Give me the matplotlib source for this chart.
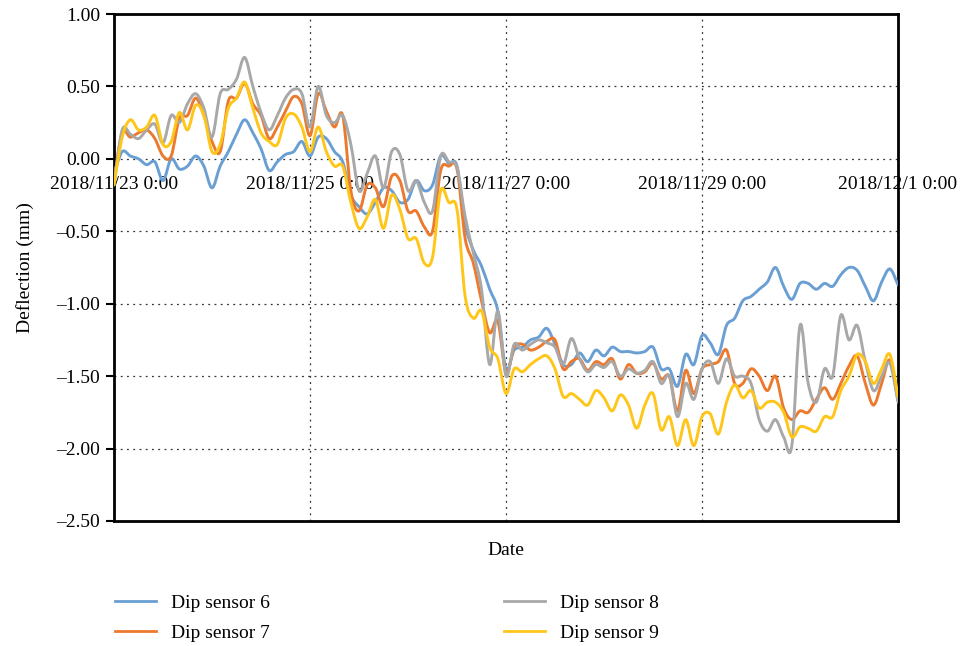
import numpy as np
import pandas as pd
import matplotlib
matplotlib.use("Agg")
import matplotlib.pyplot as plt
import matplotlib.dates as mdates
from matplotlib.path import Path
from matplotlib.patches import PathPatch
from matplotlib.lines import Line2D

plt.rcParams['font.family'] = ['Liberation Serif', 'DejaVu Serif']

# Two-hourly readings from 2018/11/23 0:00 to 2018/12/1 0:00
start = "2018-11-23 00:00"
n_points = 97
step = "2h"

sensor6 = [
    -0.10, 0.05, 0.02, 0.00, -0.04, -0.02, -0.15, 0.00, -0.07, -0.05,
    0.02, -0.05, -0.20, -0.05, 0.05, 0.17, 0.27, 0.18, 0.07, -0.08,
    -0.02, 0.03, 0.05, 0.12, 0.02, 0.15, 0.14, 0.05, -0.02, -0.25,
    -0.33, -0.38, -0.30, -0.20, -0.22, -0.30, -0.28, -0.15, -0.22, -0.18,
    0.02, -0.03, -0.05, -0.45, -0.63, -0.74, -0.90, -1.05, -1.45, -1.32,
    -1.30, -1.25, -1.23, -1.17, -1.28, -1.42, -1.42, -1.34, -1.40, -1.32,
    -1.36, -1.30, -1.33, -1.33, -1.34, -1.33, -1.30, -1.45, -1.45, -1.57,
    -1.35, -1.42, -1.22, -1.27, -1.35, -1.15, -1.10, -0.98, -0.95, -0.90,
    -0.85, -0.75, -0.88, -0.97, -0.86, -0.86, -0.90, -0.86, -0.88, -0.80,
    -0.75, -0.77, -0.88, -0.98, -0.85, -0.76, -0.87,
]

sensor7 = [
    -0.15, 0.18, 0.15, 0.18, 0.20, 0.14, 0.02, 0.02, 0.28, 0.30,
    0.42, 0.30, 0.12, 0.05, 0.40, 0.42, 0.52, 0.38, 0.30, 0.14,
    0.22, 0.33, 0.43, 0.38, 0.16, 0.45, 0.33, 0.22, 0.30, -0.22,
    -0.36, -0.18, -0.20, -0.33, -0.12, -0.15, -0.36, -0.36, -0.47, -0.50,
    -0.08, -0.05, -0.07, -0.55, -0.72, -0.98, -1.20, -1.12, -1.48, -1.30,
    -1.28, -1.32, -1.30, -1.26, -1.25, -1.45, -1.40, -1.38, -1.46, -1.40,
    -1.42, -1.38, -1.52, -1.42, -1.48, -1.47, -1.41, -1.52, -1.50, -1.74,
    -1.46, -1.62, -1.45, -1.42, -1.40, -1.32, -1.55, -1.55, -1.45, -1.50,
    -1.60, -1.50, -1.72, -1.80, -1.74, -1.75, -1.66, -1.58, -1.66, -1.55,
    -1.43, -1.36, -1.55, -1.70, -1.55, -1.39, -1.67,
]

sensor8 = [
    -0.18, 0.20, 0.17, 0.14, 0.20, 0.24, 0.11, 0.30, 0.25, 0.38,
    0.45, 0.35, 0.15, 0.45, 0.48, 0.55, 0.70, 0.50, 0.32, 0.20,
    0.30, 0.42, 0.48, 0.45, 0.22, 0.50, 0.30, 0.25, 0.30, 0.10,
    -0.22, -0.10, 0.02, -0.20, 0.05, 0.03, -0.22, -0.15, -0.30, -0.36,
    0.02, -0.02, -0.06, -0.40, -0.65, -0.90, -1.42, -1.05, -1.50, -1.28,
    -1.32, -1.28, -1.25, -1.27, -1.30, -1.42, -1.24, -1.38, -1.47, -1.42,
    -1.44, -1.40, -1.50, -1.45, -1.48, -1.46, -1.40, -1.55, -1.50, -1.78,
    -1.55, -1.66, -1.45, -1.40, -1.55, -1.38, -1.50, -1.50, -1.55, -1.80,
    -1.88, -1.80, -1.92, -1.98, -1.15, -1.55, -1.68, -1.45, -1.50, -1.08,
    -1.25, -1.15, -1.40, -1.60, -1.50, -1.41, -1.68,
]

sensor9 = [
    -0.18, 0.15, 0.27, 0.20, 0.22, 0.30, 0.10, 0.12, 0.32, 0.20,
    0.37, 0.30, 0.05, 0.10, 0.35, 0.42, 0.53, 0.35, 0.18, 0.12,
    0.10, 0.28, 0.31, 0.22, 0.05, 0.22, 0.05, -0.05, -0.05, -0.30,
    -0.48, -0.40, -0.28, -0.48, -0.25, -0.35, -0.55, -0.55, -0.72, -0.68,
    -0.22, -0.30, -0.35, -0.95, -1.10, -1.05, -1.30, -1.38, -1.62, -1.45,
    -1.47, -1.42, -1.38, -1.36, -1.45, -1.64, -1.62, -1.66, -1.70, -1.60,
    -1.65, -1.74, -1.63, -1.70, -1.86, -1.70, -1.62, -1.87, -1.78, -1.98,
    -1.80, -1.98, -1.78, -1.76, -1.90, -1.68, -1.56, -1.65, -1.60, -1.72,
    -1.68, -1.68, -1.75, -1.92, -1.85, -1.86, -1.88, -1.78, -1.78, -1.60,
    -1.50, -1.35, -1.40, -1.55, -1.45, -1.35, -1.64,
]

labels = ["Dip sensor 6", "Dip sensor 7", "Dip sensor 8", "Dip sensor 9"]
colors = ["#6A9FD4", "#EC7A2E", "#A8A8A8", "#FFC61A"]

y_ticks = [1.00, 0.50, 0.00, -0.50, -1.00, -1.50, -2.00, -2.50]
x_tick_dates = ["2018-11-23", "2018-11-25", "2018-11-27", "2018-11-29", "2018-12-01"]

times = pd.date_range(start, periods=n_points, freq=step)
series = [sensor6, sensor7, sensor8, sensor9]


def smooth_path(x, y):
    """Smoothed-line path through every reading (cubic Bezier segments)."""
    p = np.column_stack([x, y])
    n = len(p)
    verts = [p[0]]
    codes = [Path.MOVETO]
    for i in range(n - 1):
        p0 = p[i - 1] if i > 0 else p[i]
        p1, p2 = p[i], p[i + 1]
        p3 = p[i + 2] if i + 2 < n else p[i + 1]
        c1 = p1 + (p2 - p0) / 6.0
        c2 = p2 - (p3 - p1) / 6.0
        verts += [c1, c2, p2]
        codes += [Path.CURVE4] * 3
    return Path(verts, codes)


fig = plt.figure(figsize=(9.63, 6.46), dpi=100)
ax = fig.add_axes([0.1184, 0.1935, 0.8141, 0.7848])

xnum = mdates.date2num(times.to_pydatetime())
handles = []
for vals, lab, col in zip(series, labels, colors):
    patch = PathPatch(smooth_path(xnum, np.asarray(vals)), facecolor='none',
                      edgecolor=col, lw=2.1, capstyle='round', joinstyle='round',
                      zorder=3)
    ax.add_patch(patch)
    handles.append(Line2D([], [], color=col, lw=2.0, label=lab))

ax.xaxis_date()
tick_dt = pd.to_datetime(x_tick_dates)
ax.set_xlim(mdates.date2num(tick_dt[0].to_pydatetime()),
            mdates.date2num(tick_dt[-1].to_pydatetime()))
ymin, ymax = -2.5, 1.0
ax.set_ylim(ymin, ymax)

# grid
grid_kw = dict(color="#333333", lw=0.9, linestyle=(0, (1.5, 3.5)), zorder=0)
for v in y_ticks[1:-1]:
    ax.axhline(v, **grid_kw)
for d in tick_dt[1:-1]:
    ax.axvline(mdates.date2num(d.to_pydatetime()), **grid_kw)

for s in ax.spines.values():
    s.set_linewidth(2.0)
    s.set_color("black")

ax.set_yticks(y_ticks)
ax.yaxis.set_major_formatter(plt.FuncFormatter(lambda v, p: f"{v:.2f}".replace("-", "\u2013")))
ax.tick_params(axis='y', direction='out', length=6, width=1.5, labelsize=14, pad=4)
ax.set_xticks([mdates.date2num(d.to_pydatetime()) for d in tick_dt])
ax.tick_params(axis='x', length=0, labelbottom=False)

# date labels along the zero line
frac = (0 - ymin) / (ymax - ymin)
sec = ax.secondary_xaxis(frac)
sec.set_xticks([mdates.date2num(d.to_pydatetime()) for d in tick_dt])
sec.set_xticklabels([f"{d.year}/{d.month}/{d.day} {d.hour}:{d.minute:02d}" for d in tick_dt])
sec.xaxis.set_ticks_position('bottom')
sec.tick_params(length=0, labelsize=14, pad=12, labelbottom=True, labeltop=False)
for s in sec.spines.values():
    s.set_visible(False)

ax.set_xlabel("Date", fontsize=14, labelpad=15)
ax.set_ylabel("Deflection (mm)", fontsize=14, labelpad=16)

fig.legend(handles=handles, loc='upper left', bbox_to_anchor=(0.1097, 0.095), ncol=2,
           frameon=False, fontsize=14, handlelength=2.1, handletextpad=0.75,
           columnspacing=12.06, labelspacing=0.65, borderpad=0)

fig.savefig("out.png", dpi=100)
